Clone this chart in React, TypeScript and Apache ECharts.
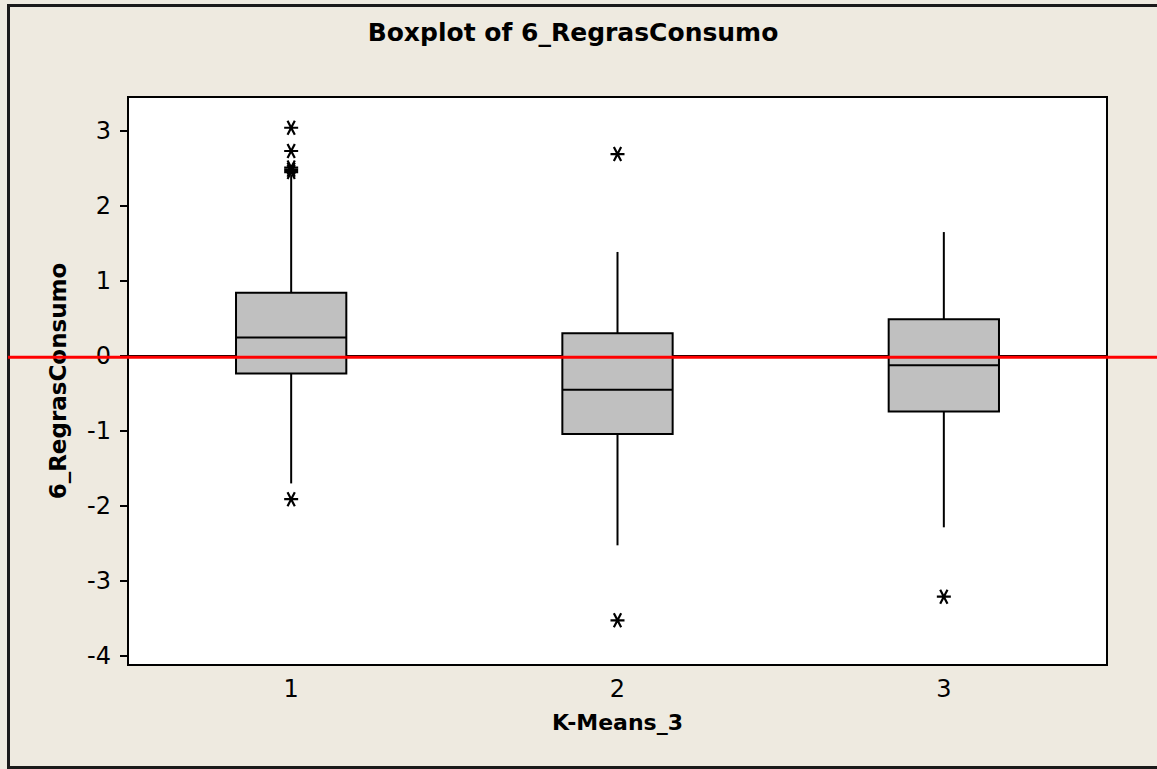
import React, { useEffect, useRef } from "react";
import * as echarts from "echarts";

const categories = ["1", "2", "3"];
const whiskerLow = [-1.7, -2.525, -2.285];
const quartile1 = [-0.236, -1.04, -0.74];
const medians = [0.245, -0.45, -0.125];
const quartile3 = [0.84, 0.3, 0.488];
const whiskerHigh = [2.41, 1.385, 1.65];
const outliersGroup1 = [3.04, 2.73, 2.51, 2.48, 2.45, -1.91];
const outliersGroup2 = [2.69, -3.525];
const outliersGroup3 = [-3.21];
const yTickValues = [-4, -3, -2, -1, 0, 1, 2, 3];
const referenceValue = -0.02;
const yMin = -4.12;
const yMax = 3.45;

const FONT = "DejaVu Sans";

export default function App() {
  const ref = useRef<HTMLDivElement>(null);
  useEffect(() => {
    if (!ref.current) return;
    const chart = echarts.init(ref.current, null, { renderer: "svg" });
    const boxData = categories.map((_, i) => [
      i,
      whiskerLow[i],
      quartile1[i],
      medians[i],
      quartile3[i],
      whiskerHigh[i],
    ]);
    const outlierData: number[][] = [];
    [outliersGroup1, outliersGroup2, outliersGroup3].forEach((arr, i) =>
      arr.forEach((v) => outlierData.push([i, v]))
    );
    const option: any = {
      animation: false,
      backgroundColor: "#EEEAE0",
      title: {
        text: "Boxplot of 6_RegrasConsumo",
        left: 568,
        top: 15,
        textAlign: "center",
        textStyle: { fontFamily: FONT, fontSize: 25, fontWeight: "bold", color: "#000" },
      },
      grid: {
        left: 128,
        top: 97,
        right: 50,
        bottom: 104,
        show: true,
        backgroundColor: "#fff",
        borderColor: "#000",
        borderWidth: 2,
      },
      xAxis: {
        type: "category",
        data: categories,
        boundaryGap: true,
        name: "K-Means_3",
        nameLocation: "middle",
        nameGap: 46,
        nameTextStyle: { fontFamily: FONT, fontSize: 22, fontWeight: "bold", color: "#000" },
        axisLine: { show: true, lineStyle: { color: "#000", width: 2 } },
        axisTick: { show: true, alignWithLabel: true, length: 8, lineStyle: { color: "#000", width: 2 } },
        axisLabel: { fontFamily: FONT, fontSize: 24, color: "#000", margin: 12 },
        splitLine: { show: false },
      },
      yAxis: {
        type: "value",
        min: yMin,
        max: yMax,
        name: "6_RegrasConsumo",
        nameLocation: "middle",
        nameGap: 59,
        nameTextStyle: { fontFamily: FONT, fontSize: 23, fontWeight: "bold", color: "#000" },
        axisLine: { show: true, lineStyle: { color: "#000", width: 2 } },
        axisTick: { show: true, length: 8, customValues: yTickValues, lineStyle: { color: "#000", width: 2 } },
        axisLabel: { fontFamily: FONT, fontSize: 24, color: "#000", margin: 17, customValues: yTickValues },
        splitLine: { show: false },
      },
      series: [
        {
          type: "custom",
          data: boxData,
          encode: { x: 0, y: [1, 2, 3, 4, 5] },
          z: 3,
          renderItem: (params: any, api: any) => {
            const idx = api.value(0);
            const pLow = api.coord([idx, api.value(1)]);
            const pQ1 = api.coord([idx, api.value(2)]);
            const pMed = api.coord([idx, api.value(3)]);
            const pQ3 = api.coord([idx, api.value(4)]);
            const pHigh = api.coord([idx, api.value(5)]);
            const band = api.size([1, 0])[0];
            const w = band * 0.338;
            const cx = pMed[0];
            const stroke = { stroke: "#000", lineWidth: 2 };
            return {
              type: "group",
              children: [
                { type: "line", shape: { x1: cx, y1: pHigh[1], x2: cx, y2: pQ3[1] }, style: stroke },
                { type: "line", shape: { x1: cx, y1: pQ1[1], x2: cx, y2: pLow[1] }, style: stroke },
                {
                  type: "rect",
                  shape: { x: cx - w / 2, y: pQ3[1], width: w, height: pQ1[1] - pQ3[1] },
                  style: { fill: "#C0C0C0", stroke: "#000", lineWidth: 2 },
                },
                { type: "line", shape: { x1: cx - w / 2, y1: pMed[1], x2: cx + w / 2, y2: pMed[1] }, style: stroke },
              ],
            };
          },
        },
        {
          type: "scatter",
          data: outlierData,
          z: 4,
          symbol: "path://M0,50 L100,50 M24,4 L76,96 M76,4 L24,96",
          symbolSize: 14,
          itemStyle: { color: "transparent", borderColor: "#000", borderWidth: 2.2, opacity: 1 },
        },
      ],
    };
    chart.setOption(option);
    const yRef = chart.convertToPixel({ yAxisIndex: 0 }, referenceValue) as number;
    chart.setOption({
      graphic: [
        {
          type: "rect",
          z: 100,
          shape: { x: 8.5, y: 5.5, width: 1200, height: 762 },
          style: { fill: "none", stroke: "#1a1a1a", lineWidth: 3 },
          silent: true,
        },
        {
          type: "line",
          z: 101,
          shape: { x1: 8, y1: yRef, x2: 1157, y2: yRef },
          style: { stroke: "#FF0000", lineWidth: 3 },
          silent: true,
        },
      ],
    });
    return () => chart.dispose();
  }, []);
  return (
    <div
      ref={ref}
      style={{ position: "fixed", left: 0, top: 0, width: 1157, height: 769 }}
    />
  );
}
